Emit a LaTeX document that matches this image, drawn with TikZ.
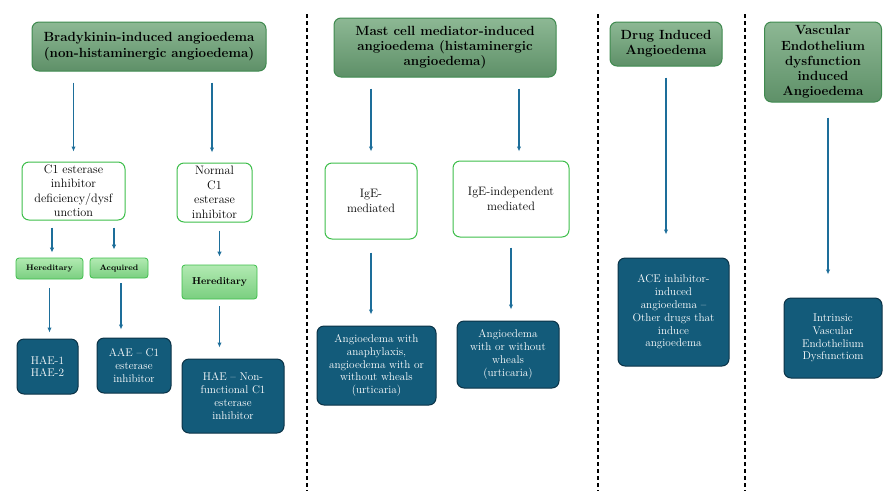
\documentclass[tikz,border=0pt]{standalone}
\usepackage{tikz}
\usetikzlibrary{arrows.meta,positioning,calc}
\usepackage{xcolor}
\definecolor{hdrtop}{HTML}{8DB894}
\definecolor{hdrbot}{HTML}{5E9068}
\definecolor{hdredge}{HTML}{3F8A4F}
\definecolor{leafgreen}{HTML}{3DBE4A}
\definecolor{lighttop}{HTML}{B2EAB2}
\definecolor{lightbot}{HTML}{7ACF80}
\definecolor{deepblue}{HTML}{135B7A}
\definecolor{deepedge}{HTML}{0B3347}
\definecolor{arrowblue}{HTML}{1D6E9A}
\tikzset{
  headbox/.style={draw=hdredge,top color=hdrtop,bottom color=hdrbot,rounded corners=7pt,align=center,
    line width=1pt,inner sep=1pt,font=\fontsize{13.3}{15.2}\selectfont\bfseries},
  typebox/.style={draw=leafgreen,fill=white,rounded corners=7pt,align=center,
    line width=1pt,inner sep=1pt,font=\fontsize{12.2}{14.5}\selectfont},
  tagbox/.style={draw=leafgreen,top color=lighttop,bottom color=lightbot,rounded corners=3pt,align=center,
    line width=0.8pt,inner sep=1pt,font=\fontsize{8}{9}\selectfont\bfseries},
  leafbox/.style={draw=deepedge,fill=deepblue,rounded corners=7pt,align=center,text=white,
    line width=1pt,inner sep=1pt,font=\fontsize{11.2}{12.8}\selectfont},
  arrow/.style={-{Latex[length=5pt,width=4.5pt]},draw=arrowblue,line width=1.5pt},
  divider/.style={draw=black,line width=1.2pt,dash pattern=on 4pt off 3pt}
}
\begin{document}
\begin{tikzpicture}[x=1pt,y=-1pt]
        \useasboundingbox (0,0) rectangle (883,491);
        \draw[divider] (307,14) -- (307,491);
        \draw[divider] (598,14) -- (598,491);
        \draw[divider] (745,14) -- (745,491);
        \node[headbox,minimum width=234,minimum height=49] (brady) at (149,46.5) {Bradykinin-induced angioedema\\(non-histaminergic angioedema)};
        \node[headbox,minimum width=222,minimum height=59] (mast) at (445,47.5) {Mast cell mediator-induced\\angioedema (histaminergic\\angioedema)};
        \node[headbox,minimum width=112,minimum height=44] (drug) at (666,44) {Drug Induced\\Angioedema};
        \node[headbox,minimum width=117,minimum height=80] (vasc) at (823,62) {Vascular\\Endothelium\\dysfunction\\induced\\Angioedema};
        \node[typebox,minimum width=103,minimum height=58] (c1def) at (73.5,191) {C1 esterase\\inhibitor\\deficiency/dysf\\unction};
        \node[typebox,minimum width=75,minimum height=59] (normal) at (214.5,192.5) {Normal\\C1\\esterase\\inhibitor};
        \node[typebox,minimum width=92,minimum height=76] (ige) at (371,201) {IgE-\\mediated};
        \node[typebox,minimum width=116,minimum height=76] (igeind) at (511,199) {IgE-independent\\mediated};
        \node[tagbox,minimum width=67,minimum height=21] (hered1) at (49.5,268.5) {Hereditary};
        \node[tagbox,minimum width=58,minimum height=20] (acq) at (119,268) {Acquired};
        \node[tagbox,minimum width=75,minimum height=34,font=\fontsize{10}{11}\selectfont\bfseries] (hered2) at (219.5,282) {Hereditary};
        \node[leafbox,minimum width=61,minimum height=55] (hae) at (47.5,366.5) {HAE-1\\HAE-2};
        \node[leafbox,minimum width=74,minimum height=55] (aae) at (134,365.5) {AAE -- C1\\esterase\\inhibitor};
        \node[leafbox,minimum width=102,minimum height=74] (haenon) at (233,396) {HAE -- Non-\\functional C1\\esterase\\inhibitor};
        \node[leafbox,minimum width=119,minimum height=79] (anaph) at (376.5,365.5) {Angioedema with\\anaphylaxis,\\angioedema with or\\without wheals\\(urticaria)};
        \node[leafbox,minimum width=102,minimum height=67] (urtic) at (508,354.5) {Angioedema\\with or without\\wheals\\(urticaria)};
        \node[leafbox,minimum width=111,minimum height=108] (ace) at (673.5,312) {ACE inhibitor-\\induced\\angioedema --\\Other drugs that\\induce\\angioedema};
        \node[leafbox,minimum width=98,minimum height=80] (intr) at (833,338) {Intrinsic\\Vascular\\Endothelium\\Dysfunctiom};
        \draw[arrow,shorten <=11pt,shorten >=10pt] (brady.south -| c1def.north) -- (c1def.north);
        \draw[arrow,shorten <=11pt,shorten >=10pt] ([xshift=-2.5]brady.south -| normal.north) -- ([xshift=-2.5]normal.north);
        \draw[arrow,shorten <=7pt,shorten >=5pt] ([xshift=2.5]c1def.south -| hered1.north) -- ([xshift=2.5]hered1.north);
        \draw[arrow,shorten <=7pt,shorten >=8pt] ([xshift=-5]c1def.south -| acq.north) -- ([xshift=-5]acq.north);
        \draw[arrow,shorten <=8pt,shorten >=8pt] (normal.south -| hered2.north) -- (hered2.north);
        \draw[arrow,shorten <=9pt,shorten >=6pt] (hered1.south) -- (hered1.south |- hae.north);
        \draw[arrow,shorten <=5pt,shorten >=8pt] ([xshift=2]acq.south) -- ([xshift=2]acq.south |- aae.north);
        \draw[arrow,shorten <=7pt,shorten >=11pt] (hered2.south) -- (hered2.south |- haenon.north);
        \draw[arrow,shorten <=11pt,shorten >=11pt] (mast.south -| ige.north) -- (ige.north);
        \draw[arrow,shorten <=11pt,shorten >=9pt] ([xshift=8]mast.south -| igeind.north) -- ([xshift=8]igeind.north);
        \draw[arrow,shorten <=13pt,shorten >=11pt] (ige.south) -- (ige.south |- anaph.north);
        \draw[arrow,shorten <=10pt,shorten >=11pt] (igeind.south) -- (igeind.south |- urtic.north);
        \draw[arrow,shorten <=11pt,shorten >=23pt] (drug.south) -- (drug.south |- ace.north);
        \draw[arrow,shorten <=15pt,shorten >=23pt] ([xshift=5]vasc.south) -- ([xshift=5]vasc.south |- intr.north);
      \end{tikzpicture}
\end{document}
